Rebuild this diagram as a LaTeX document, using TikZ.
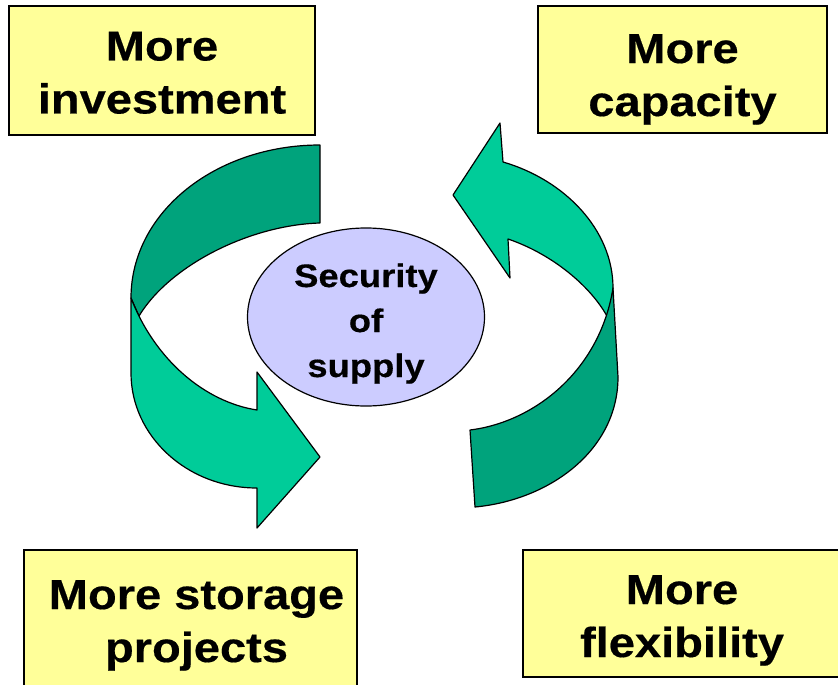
\documentclass[tikz,border=0pt]{standalone}
\usepackage{fontspec}
\setmainfont{Liberation Sans}[FakeStretch=1.12, BoldFeatures={FakeBold=0.4}]
\usetikzlibrary{shapes.geometric}
\definecolor{boxyellow}{RGB}{255,255,153}
\definecolor{ovalblue}{RGB}{204,204,255}
\definecolor{bandlight}{RGB}{0,204,153}
\definecolor{banddark}{RGB}{0,163,124}
\begin{document}
\begin{tikzpicture}[x=1pt, y=-1pt,
  box/.style={rectangle, draw, line width=1.5pt, fill=boxyellow, align=center, inner sep=0pt,
    font=\fontsize{42}{53}\selectfont\bfseries, text depth=0pt},
  band/.style={draw, line width=1.2pt, line join=round}]
\useasboundingbox (0,0) rectangle (838,685);
% left arrow
\filldraw[band, fill=banddark] (320,145) .. controls (216,145) and (131,212) .. (131,298) -- (139,316) .. controls (170,265) and (250,225) .. (320,223) -- cycle;
\filldraw[band, fill=bandlight] (131,298) -- (131,373) .. controls (131,436) and (187,488) .. (257,488) -- (257,528) -- (320,457) -- (257,372) -- (257,410) .. controls (205,402) and (155,360) .. (131,298) -- cycle;
% right arrow
\filldraw[band, fill=bandlight] (453,195) -- (500,123) -- (503,162) .. controls (565,180) and (613,230) .. (613,288) -- (610,322) .. controls (595,290) and (555,255) .. (508,239) -- (510,278) -- cycle;
\filldraw[band, fill=banddark] (613,288) -- (618,377) .. controls (618,450) and (550,500) .. (475,507) -- (470,430) .. controls (535,422) and (600,370) .. (613,288) -- cycle;
\node[ellipse, draw, line width=1.2pt, fill=ovalblue, minimum width=237pt, minimum height=178pt, align=center, inner sep=0pt,
  font=\fontsize{32.5}{45}\selectfont\bfseries, text height=120pt, text depth=0pt] (supply) at (366,317) {Security\\of\\supply};
\node[box, minimum width=306pt, minimum height=129pt, text height=86pt] (invest) at (162,70.5) {More\\investment};
\node[box, minimum width=289pt, minimum height=127pt, text height=93pt] (capacity) at (682.5,69.5) {More\\capacity};
\node[box, minimum width=333pt, minimum height=150pt, text height=74pt] (storage) at (190.5,625) {\hspace*{12pt}More storage\\\hspace*{12pt}projects};
\node[box, minimum width=318pt, minimum height=127pt, text height=87pt] (flex) at (682,613.5) {More\\flexibility};
\end{tikzpicture}
\end{document}
